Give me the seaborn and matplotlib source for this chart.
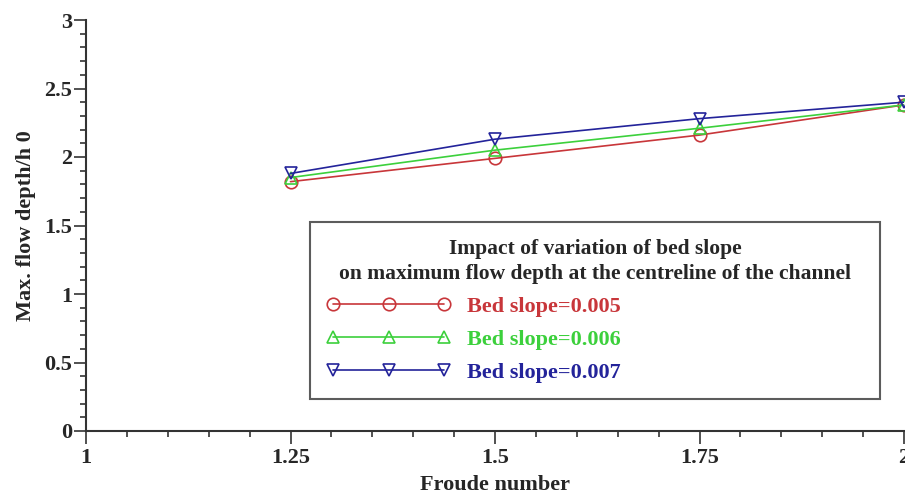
import matplotlib
matplotlib.use('Agg')
import matplotlib.pyplot as plt
import seaborn as sns
import pandas as pd
from matplotlib.ticker import MultipleLocator

# Дані з графіка
froude = [1.25, 1.5, 1.75, 2.0]
depth_005 = [1.82, 1.99, 2.16, 2.38]
depth_006 = [1.85, 2.05, 2.21, 2.38]
depth_007 = [1.88, 2.13, 2.28, 2.40]
labels = ['Bed slope=0.005', 'Bed slope=0.006', 'Bed slope=0.007']
legend_title = ('Impact of variation of bed slope\n'
                'on maximum flow depth at the centreline of the channel')
x_ticks = [1, 1.25, 1.5, 1.75, 2]
x_ticklabels = ['1', '1.25', '1.5', '1.75', '2']
y_ticks = [0, 0.5, 1, 1.5, 2, 2.5, 3]
y_ticklabels = ['0', '0.5', '1', '1.5', '2', '2.5', '3']

colors = ['#c8363a', '#3cd03c', '#23239a']
markers = ['o', '^', 'v']

sns.set_style("ticks")
plt.rcParams['font.family'] = ['Liberation Serif', 'DejaVu Serif']
plt.rcParams['font.weight'] = 'bold'

fig = plt.figure(figsize=(9.05, 4.93), dpi=100)
ax = fig.add_axes([86 / 905, 62 / 493, 818 / 905, 411 / 493])

for vals, lab, col, mk in zip([depth_005, depth_006, depth_007], labels, colors, markers):
    df = pd.DataFrame({'froude': froude, 'depth': vals})
    sns.lineplot(data=df, x='froude', y='depth', ax=ax, color=col, label=lab,
                 marker=mk, markersize=9, markerfacecolor='none',
                 markeredgecolor=col, markeredgewidth=1.2, linewidth=1.2)

ax.set_xlim(1, 2)
ax.set_ylim(0, 3)
ax.xaxis.set_minor_locator(MultipleLocator(0.05))
ax.yaxis.set_minor_locator(MultipleLocator(0.1))
ax.set_xticks(x_ticks)
ax.set_xticklabels(x_ticklabels)
ax.set_yticks(y_ticks)
ax.set_yticklabels(y_ticklabels)

for side in ['top', 'right']:
    ax.spines[side].set_visible(False)
for side in ['left', 'bottom']:
    ax.spines[side].set_color('#333333')
    ax.spines[side].set_linewidth(1.5)

ax.tick_params(which='major', length=9, width=1.2, color='#333333', labelsize=16)
ax.tick_params(axis='x', which='major', pad=3)
ax.tick_params(axis='y', which='major', pad=1)
ax.tick_params(which='minor', length=4.5, width=1.2, color='#333333')
for t in ax.get_xticklabels() + ax.get_yticklabels():
    t.set_fontweight('bold')

ax.set_xlabel('Froude number', fontsize=16, fontweight='bold', labelpad=5)
ax.set_ylabel('Max. flow depth/h 0', fontsize=16, fontweight='bold', labelpad=6)

leg = ax.legend(title=legend_title, loc='upper left',
                bbox_to_anchor=(224 / 818, 209 / 411, 570 / 818, 0),
                mode='expand', frameon=True, fancybox=False,
                edgecolor='#333333', numpoints=3, handlelength=5.6,
                handletextpad=0.7, borderpad=0.75, borderaxespad=0,
                labelspacing=0.55,
                prop={'size': 16, 'weight': 'bold'},
                title_fontproperties={'size': 15.5, 'weight': 'bold'},
                alignment='center')
leg.get_frame().set_linewidth(1.5)
leg.get_title().set_multialignment('center')
leg.get_title().set_linespacing(1.38)
for txt, col in zip(leg.get_texts(), colors):
    txt.set_color(col)

plt.savefig('out.png', dpi=100)
plt.close()
